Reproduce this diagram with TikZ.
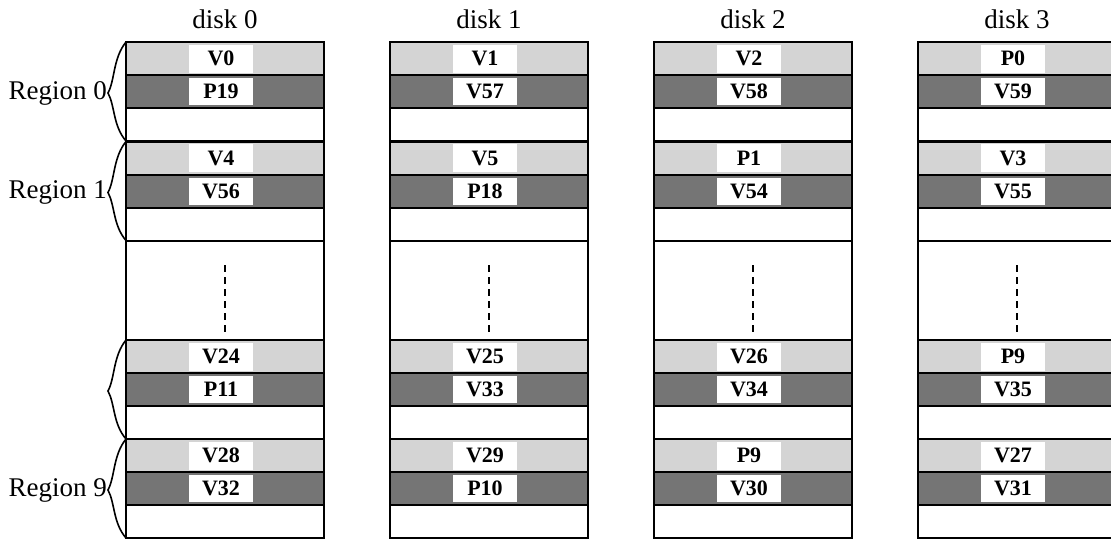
\documentclass[tikz,border=0pt]{standalone}
\usepackage{fontspec}
\setmainfont{Liberation Serif}
\tikzset{
  lightrow/.style={fill=black!17},
  darkrow/.style={fill=black!54},
  cellbox/.style={fill=white, inner sep=0pt, minimum width=64pt, minimum height=28pt,
    font=\fontsize{22}{24}\selectfont\bfseries},
  rowline/.style={line width=2pt},
  diskframe/.style={draw, line width=2.4pt},
  bracecurve/.style={line width=1.6pt},
  disklabel/.style={font=\fontsize{27}{30}\selectfont, inner sep=0pt},
  regionlabel/.style={font=\fontsize{27}{30}\selectfont, inner sep=0pt, anchor=east},
  gapdash/.style={line width=1.6pt, dash pattern=on 7pt off 5pt}
}
% #1 disk id, #2 left x, #3 top y, #4 region id, #5 upper label, #6 lower label
\newcommand\diskregion[6]{%
  \fill[lightrow] (#2,#3) rectangle ++(198,33);
  \fill[darkrow] (#2,#3+33) rectangle ++(198,33);
  \node[cellbox] (c#1r#4a) at (#2+95,#3+16.5) {#5};
  \node[cellbox, minimum height=27pt] (c#1r#4b) at (#2+95,#3+49.5) {#6};
  \draw[rowline] (#2,#3) -- ++(198,0) (#2,#3+33) -- ++(198,0)
     (#2,#3+66) -- ++(198,0) (#2,#3+99) -- ++(198,0);
}
\newcommand\regionbrace[1]{%
  \draw[bracecurve] (126,#1) .. controls (113,#1+16) and (115,#1+38) .. (108,#1+51)
     .. controls (115,#1+64) and (113,#1+84) .. (126,#1+99);
}
\begin{document}
\begin{tikzpicture}[x=1pt,y=-1pt]
\useasboundingbox (0,0) rectangle (1111,541);
\clip (0,0) rectangle (1111,541);
\fill[white] (0,0) rectangle (1111,541);
\foreach \d/\xl/\la/\lb/\lc/\ld/\le/\lf/\lg/\lh in {
  0/126/V0/P19/V4/V56/V24/P11/V28/V32,
  1/390/V1/V57/V5/P18/V25/V33/V29/P10,
  2/654/V2/V58/P1/V54/V26/V34/P9/V30,
  3/918/P0/V59/V3/V55/P9/V35/V27/V31}{
  \diskregion{\d}{\xl}{42}{0}{\la}{\lb}
  \diskregion{\d}{\xl}{141.5}{1}{\lc}{\ld}
  \diskregion{\d}{\xl}{340}{2}{\le}{\lf}
  \diskregion{\d}{\xl}{439}{3}{\lg}{\lh}
  \draw[gapdash] (\xl+99,265) -- (\xl+99,334);
  \draw[diskframe] (\xl,42) rectangle (\xl+198,538);
  \node[disklabel] (disk\d) at (\xl+99,19) {disk \d};
}
\regionbrace{42}
\regionbrace{141.5}
\regionbrace{340}
\regionbrace{439}
\node[regionlabel] (reg0) at (107,93) {Region 0};
\node[regionlabel] (reg1) at (107,192) {Region 1};
\node[regionlabel] (reg9) at (107,490) {Region 9};
\end{tikzpicture}
\end{document}
